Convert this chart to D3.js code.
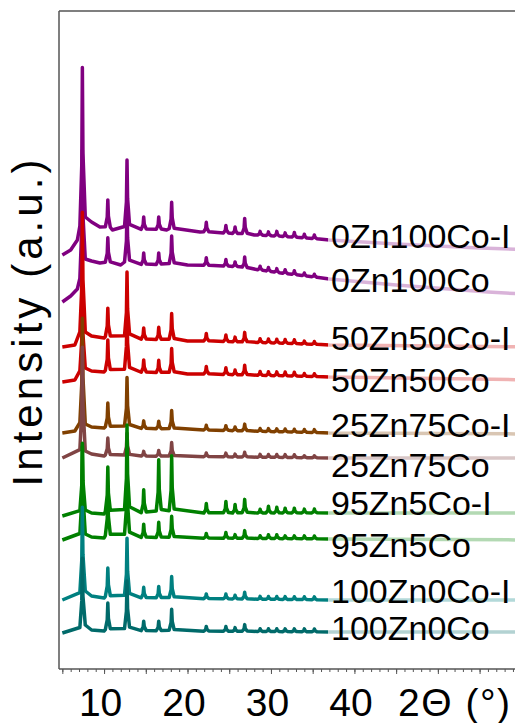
<!DOCTYPE html>
<html>
<head>
<meta charset="utf-8">
<script src="https://cdn.jsdelivr.net/npm/d3@7"></script>
<style>
  body { margin: 0; background: #fff; }
  text { font-family: "Liberation Sans", Arial, sans-serif; }
</style>
</head>
<body>
<svg id="chart" width="515" height="723"></svg>
<script>
// sample names, top to bottom
var samples = ["0Zn100Co-I", "0Zn100Co", "50Zn50Co-I", "50Zn50Co", "25Zn75Co-I",
               "25Zn75Co", "95Zn5Co-I", "95Zn5Co", "100Zn0Co-I", "100Zn0Co"]
var colors = ["#800080", "#800080", "#cc0000", "#cc0000", "#804000",
              "#804444", "#008000", "#008000", "#008080", "#006a6a"]

// reflection positions (2theta, deg)
var peakPos = [7.4, 10.45, 12.75, 14.75, 16.55, 18.1, 22.25, 24.6, 25.7, 26.85,
               28.7, 29.7, 30.7, 31.7, 32.8, 34.0, 35.2]

// peak heights above background (a.u.), one row per sample
var peakHeights = [
  [159, 29, 70, 13, 13, 28, 10, 8, 7, 16, 4, 4, 5, 4, 5, 4, 4],
  [124, 26, 60, 12, 12, 29, 8, 7, 5, 11, 4, 4, 4, 4, 4, 3, 3],
  [123, 30, 67, 12, 13, 27, 8, 7, 5, 10, 4, 4, 4, 4, 4, 3, 3],
  [82, 32, 66, 13, 13, 25, 8, 7, 5, 10, 4, 4, 4, 4, 4, 3, 3],
  [108, 25, 51, 8, 8, 19, 5, 5, 4, 7, 3, 3, 3, 3, 3, 3, 3],
  [106, 18, 23, 5, 6, 14, 4, 4, 3, 5, 3, 3, 3, 3, 3, 2, 2],
  [69, 47, 89, 24, 54, 58, 10, 12, 9, 14, 4, 7, 6, 5, 5, 4, 4],
  [90, 48, 75, 14, 16, 22, 5, 6, 4, 8, 3, 4, 4, 3, 3, 3, 3],
  [87, 30, 60, 11, 12, 22, 5, 5, 4, 7, 3, 3, 3, 3, 3, 3, 3],
  [70, 28, 50, 10, 10, 22, 5, 5, 4, 7, 3, 3, 3, 3, 3, 3, 3]
]

// background curves [2theta, intensity] with stacking offset included
var baselines = [
  [[5, 414], [6, 419], [6.8, 429], [7.2, 437], [7.75, 452], [8.5, 447], [9.5, 442], [11, 439], [17.5, 439], [21.5, 437], [28, 434], [32, 432], [37, 429], [45, 425], [55, 421], [62, 419]],
  [[5, 367], [6, 373], [6.8, 380], [7.2, 386], [7.75, 410], [8.5, 408], [9.5, 406], [12, 404], [20, 404], [26, 402], [31, 396], [37, 390], [45, 384], [56, 377], [62, 374]],
  [[5, 322], [6.5, 324], [7.1, 331], [7.75, 337], [8.5, 333], [10, 331], [15, 329], [20, 328], [30, 326], [37, 324], [50, 323], [62, 322]],
  [[5, 287], [6.5, 289], [7.1, 294], [7.75, 301], [8.5, 298], [10, 297], [20, 295], [37, 292], [62, 289]],
  [[5, 236], [6.5, 238], [7.1, 241], [7.75, 245], [8.5, 242], [10, 241], [37, 236], [62, 235]],
  [[5, 211], [7.1, 214], [7.75, 218], [8.5, 215], [10, 213], [37, 211], [62, 211]],
  [[5, 153], [7.1, 155], [7.75, 159], [8.5, 156], [10, 155], [37, 156], [62, 156]],
  [[5, 129], [7.1, 131], [7.75, 135], [8.5, 132], [10, 131], [37, 130], [62, 129]],
  [[5, 69], [7.1, 72], [7.75, 78], [8.5, 73], [10, 71], [37, 69], [62, 69]],
  [[5, 36], [7.1, 38], [7.75, 44], [8.5, 39], [10, 38], [37, 37], [62, 37]]
]

var xTicks = [10, 20, 30, 40]

var svg = d3.select("#chart")
var x = d3.scaleLinear().domain([4.6, 62]).range([59, 538])
var y = d3.scaleLinear().domain([0, 658]).range([669, 11])

function tracePoints(i) {
    var bl = baselines[i]
    var bg = d3.scaleLinear().domain(bl.map(function(d) { return d[0] })).range(bl.map(function(d) { return d[1] }))
    var pts = bl.filter(function(d) {
        return peakPos.every(function(p) { return Math.abs(d[0] - p) > 0.32 }) })
    peakPos.forEach(function(p, j) {
        var h = peakHeights[i][j]
        pts.push([p - 0.3, bg(p - 0.3) + 0.05 * h])
        pts.push([p - 0.07, bg(p - 0.07) + 0.4 * h])
        pts.push([p, bg(p) + h])
        pts.push([p + 0.07, bg(p + 0.07) + 0.45 * h])
        pts.push([p + 0.3, bg(p + 0.3) + 0.08 * h])
    })
    return pts.sort(function(a, b) { return a[0] - b[0] })
}

var line = d3.line()
    .x(function(d) { return x(d[0]) })
    .y(function(d) { return y(d[1]) })

var traces = svg.append("g")
traces.selectAll("path")
    .data(samples)
    .enter().append("path")
    .attr("d", function(d, i) { return line(tracePoints(i)) })
    .style("fill", "none")
    .style("stroke", function(d, i) { return colors[i] })
    .style("stroke-width", 3.5)
    .style("stroke-linejoin", "round")

// translucent label panel
svg.append("rect")
    .attr("x", 328).attr("y", 215)
    .attr("width", 200).attr("height", 435)
    .style("fill", "white").style("opacity", 0.7)

var labelY = [248, 292, 350, 392, 437, 477, 515, 557, 603, 640]
svg.append("g").selectAll("text")
    .data(samples)
    .enter().append("text")
    .attr("x", 331)
    .attr("y", function(d, i) { return labelY[i] })
    .style("font-size", "34px")
    .style("fill", "#000")
    .text(function(d) { return d })

// frame
var axisColor = "#555"
svg.append("line").attr("x1", 59).attr("x2", 59).attr("y1", 11).attr("y2", 669)
    .style("stroke", axisColor).style("stroke-width", 1.5)
svg.append("line").attr("x1", 59).attr("x2", 515).attr("y1", 11).attr("y2", 11)
    .style("stroke", axisColor).style("stroke-width", 1.5)

var minor = svg.append("g").attr("transform", "translate(0,669)")
    .call(d3.axisBottom(x).tickValues(d3.range(5, 62, 1)).tickSize(3).tickFormat(""))
var major = svg.append("g").attr("transform", "translate(0,669)")
    .call(d3.axisBottom(x).tickValues(d3.range(5, 62, 5)).tickSize(5)
        .tickFormat(function(d) { return xTicks.indexOf(d) >= 0 ? d : "" }))
minor.select(".domain").remove()
major.select(".domain").attr("d", "M59,0H515").style("stroke", axisColor).style("stroke-width", 1.5)
svg.selectAll(".tick line").style("stroke", axisColor).style("stroke-width", 1)
major.selectAll(".tick text")
    .attr("y", 19).attr("dx", -4)
    .style("font-size", "39px").style("fill", "#000")
    .style("font-family", "'Liberation Sans', Arial, sans-serif")

svg.append("text")
    .attr("x", 398).attr("y", 716)
    .attr("textLength", 112).attr("lengthAdjust", "spacing")
    .style("font-size", "39px")
    .text("2\u0398 (\u00b0)")

svg.append("text")
    .attr("transform", "translate(42,323) rotate(-90)")
    .attr("text-anchor", "middle")
    .attr("textLength", 327).attr("lengthAdjust", "spacing")
    .style("font-size", "42px")
    .text("Intensity (a.u.)")
</script>
</body>
</html>
